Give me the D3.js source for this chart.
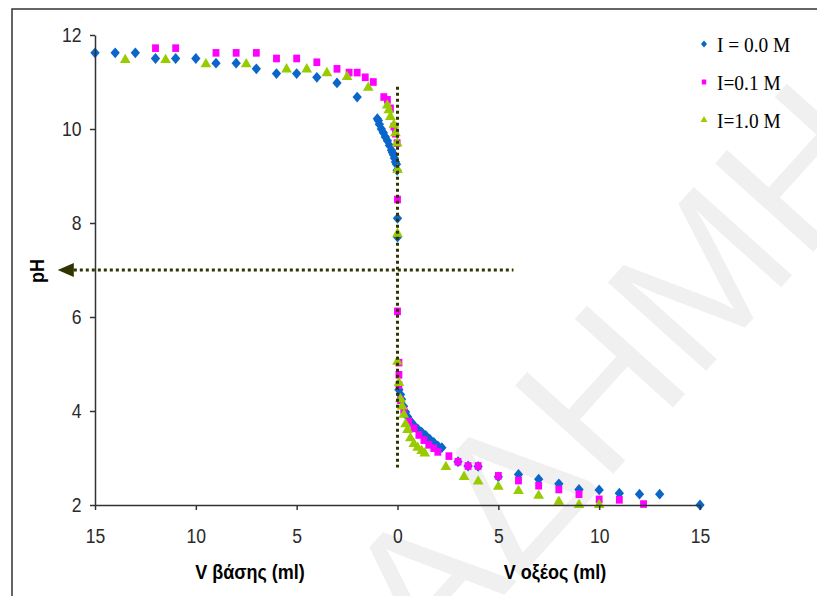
<!DOCTYPE html>
<html>
<head>
<meta charset="utf-8">
<script src="https://cdn.jsdelivr.net/npm/d3@7"></script>
<style>
  body { margin: 0; background: #fff; }
  svg { display: block; }
</style>
</head>
<body>
<svg id="chart"></svg>
<script>
// series labels
const seriesNames = ['I = 0.0 M', 'I=0.1 M', 'I=1.0 M'];

// I = 0.0 M, base side (V base) and acid side (V acid)
const base00V  = [15, 14, 13, 12, 11, 10, 9, 8, 7, 6, 5, 4, 3, 2, 1.0, 0.95, 0.9, 0.8, 0.7, 0.6, 0.5, 0.4, 0.3, 0.25, 0.2, 0.15, 0.1, 0.05, 0.02, 0, 0];
const base00pH = [11.62, 11.62, 11.62, 11.5, 11.5, 11.5, 11.4, 11.4, 11.28, 11.18, 11.18, 11.1, 10.98, 10.68, 10.22, 10.18, 10.1, 10.0, 9.92, 9.83, 9.75, 9.65, 9.55, 9.5, 9.45, 9.38, 9.3, 9.25, 9.12, 8.1, 7.7];
const acid00V  = [0.07, 0.15, 0.2, 0.3, 0.4, 0.5, 0.6, 0.7, 0.8, 1.0, 1.2, 1.4, 1.6, 1.8, 2.0, 2.2, 3.0, 3.5, 4.0, 5, 6, 7, 8, 9, 10, 11, 12, 13, 15];
const acid00pH = [4.45, 4.35, 4.25, 4.1, 3.98, 3.88, 3.8, 3.75, 3.7, 3.62, 3.55, 3.48, 3.4, 3.33, 3.26, 3.22, 2.92, 2.83, 2.82, 2.6, 2.65, 2.55, 2.45, 2.33, 2.32, 2.25, 2.23, 2.23, 2.0];

// I = 0.1 M
const base01V  = [12, 11, 9, 8, 7, 6, 5, 4, 3, 2.4, 2.0, 1.6, 1.2, 0.68, 0.5, 0.35, 0.18, 0.1, 0.02, 0, 0];
const base01pH = [11.72, 11.72, 11.62, 11.62, 11.62, 11.5, 11.5, 11.42, 11.28, 11.2, 11.2, 11.1, 11.0, 10.68, 10.62, 10.44, 10.05, 9.9, 9.7, 8.5, 6.12];
const acid01V  = [0.07, 0.07, 0.07, 0.15, 0.31, 0.56, 0.81, 1.06, 1.31, 1.55, 1.8, 2.0, 2.55, 3.0, 3.5, 4.0, 5.0, 6.0, 7.0, 8.0, 9.0, 10.0, 11.0, 12.2];
const acid01pH = [5.03, 4.77, 4.55, 4.23, 4.02, 3.77, 3.63, 3.49, 3.38, 3.28, 3.21, 3.13, 3.04, 2.92, 2.83, 2.83, 2.62, 2.52, 2.41, 2.33, 2.23, 2.12, 2.11, 2.02];

// I = 1.0 M
const base10V  = [13.5, 11.5, 9.5, 7.5, 5.5, 4.5, 3.5, 2.5, 1.45, 0.51, 0.43, 0.35, 0.18, 0.1, 0.02, 0, 0];
const base10pH = [11.47, 11.47, 11.38, 11.38, 11.27, 11.27, 11.19, 11.11, 10.88, 10.5, 10.4, 10.26, 10.09, 9.91, 9.7, 9.13, 7.77];
const acid10V  = [0, 0.07, 0.15, 0.23, 0.31, 0.4, 0.5, 0.64, 0.81, 1.0, 1.2, 1.35, 2.4, 3.3, 4, 5, 6, 7, 8, 9, 10];
const acid10pH = [5.05, 4.6, 4.25, 4.1, 3.92, 3.72, 3.6, 3.42, 3.3, 3.22, 3.15, 3.1, 2.81, 2.6, 2.5, 2.39, 2.3, 2.2, 2.07, 2.0, 2.0];

// axis ticks (negative = base side)
const xTicks = [-15, -10, -5, 0, 5, 10, 15];
const yTicks = [2, 4, 6, 8, 10, 12];

// reference lines (data units)
const eqV = 0, eqFrom = 2.8, eqTo = 10.9;
const refPH = 7, refFrom = -16.05, refTo = 5.75, refTip = -16.85;

class TitrationChart {

    constructor( config, data ) {
        this.config = {
            parent: config.parent,
            width: config.width || 817,
            height: config.height || 596
        }
        this.data = data;
        this.init();
    }

    init() {
        let self = this;

        self.svg = d3.select( self.config.parent )
            .attr('width', self.config.width)
            .attr('height', self.config.height)
            .style('font-family', '"Liberation Sans", Arial, sans-serif');

        self.x = d3.scaleLinear().domain([-15, 15]).range([95, 700]);
        self.y = d3.scaleLinear().domain([2, 12]).range([505, 35]);

        self.color = d3.scaleOrdinal()
            .domain(seriesNames)
            .range(['#0b66c9', '#ff00ff', '#99cc00']);

        const diamond = { draw(ctx, size) {
            const r = Math.sqrt(size) / 2;
            ctx.moveTo(0, -r * 1.1); ctx.lineTo(r * 0.95, 0);
            ctx.lineTo(0, r * 1.1); ctx.lineTo(-r * 0.95, 0); ctx.closePath();
        } };
        const square = { draw(ctx, size) {
            const s = Math.sqrt(size) / 2;
            ctx.rect(-s * 0.9, -s, 2 * s * 0.9, 2 * s);
        } };
        self.shapes = { [seriesNames[0]]: diamond, [seriesNames[1]]: square, [seriesNames[2]]: d3.symbolTriangle };
        self.sizes = { [seriesNames[0]]: 96, [seriesNames[1]]: 58, [seriesNames[2]]: 50 };

        // frame
        self.svg.append('path')
            .attr('d', `M12,${self.config.height + 5} L12,9 L${self.config.width + 5},9`)
            .attr('fill', 'none')
            .attr('stroke', '#333')
            .attr('stroke-width', 1.5);

        // watermark
        self.svg.append('text')
            .attr('transform', 'translate(612,372) rotate(-48)')
            .attr('text-anchor', 'middle')
            .attr('dy', '0.36em')
            .style('font-size', '192px')
            .attr('fill', '#f0f0f0')
            .text('ΑΔΗΜΗ');

        self.chart = self.svg.append('g');
    }

    update() {
        let self = this;
        self.render();
    }

    render() {
        let self = this;

        // axes
        const yAxis = self.svg.append('g')
            .attr('transform', `translate(${self.x(-15)},0)`)
            .call(d3.axisLeft(self.y).tickValues(yTicks).tickSize(5).tickSizeOuter(0).tickPadding(10));
        const xAxis = self.svg.append('g')
            .attr('transform', `translate(0,${self.y(2)})`)
            .call(d3.axisBottom(self.x).tickValues(xTicks).tickSize(5).tickSizeOuter(0).tickPadding(19)
                .tickFormat(d => Math.abs(d)));

        [xAxis, yAxis].forEach(a => {
            a.select('.domain').attr('stroke', '#333').attr('stroke-width', 1.5);
            a.selectAll('.tick line').attr('stroke', '#333').attr('stroke-width', 1.5);
            a.selectAll('text')
                .style('font-family', '"Liberation Sans", Arial, sans-serif')
                .style('font-size', '19.5px')
                .attr('fill', '#2a2a2a')
                .attr('transform', 'scale(0.9,1)');
        });

        // axis titles
        const titles = [
            { text: 'V βάσης (ml)', x: 250, y: 579, r: 0 },
            { text: 'V οξέος (ml)', x: 555, y: 579, r: 0 },
            { text: 'pH', x: 44, y: 271, r: -90 }
        ];
        self.svg.selectAll('.axis-title')
            .data(titles)
            .enter()
            .append('text')
            .attr('class', 'axis-title')
            .attr('transform', d => `translate(${d.x},${d.y}) rotate(${d.r}) scale(0.9,1)`)
            .attr('text-anchor', 'middle')
            .style('font-size', '20px')
            .style('font-weight', 'bold')
            .attr('fill', '#000')
            .text(d => d.text);

        // points
        self.chart.selectAll('.series')
            .data(self.data)
            .enter()
            .append('g')
            .attr('class', 'series')
            .selectAll('path')
            .data(s => s.points.map(p => ({ name: s.name, v: p[0], pH: p[1] })))
            .enter()
            .append('path')
            .attr('transform', d => `translate(${self.x(d.v)},${self.y(d.pH)})`)
            .attr('d', d => d3.symbol(self.shapes[d.name], self.sizes[d.name])())
            .attr('fill', d => self.color(d.name));

        // dotted reference lines
        const dotted = self.svg.append('g')
            .attr('stroke', '#333300')
            .attr('stroke-width', 3)
            .attr('stroke-dasharray', '3,3');
        dotted.append('line')
            .attr('x1', self.x(eqV)).attr('x2', self.x(eqV))
            .attr('y1', self.y(eqTo)).attr('y2', self.y(eqFrom));
        dotted.append('line')
            .attr('x1', self.x(refFrom)).attr('x2', self.x(refTo))
            .attr('y1', self.y(refPH)).attr('y2', self.y(refPH));

        self.svg.append('path')
            .attr('d', `M${self.x(refTip)},${self.y(refPH)} L${self.x(refFrom)},${self.y(refPH) - 7} L${self.x(refFrom)},${self.y(refPH) + 7} Z`)
            .attr('fill', '#333300');

        // legend
        const legend = self.svg.selectAll('.legend')
            .data(seriesNames)
            .enter()
            .append('g')
            .attr('class', 'legend')
            .attr('transform', (d, i) => `translate(704,${44 + i * 38})`);

        legend.append('path')
            .attr('d', d => d3.symbol(self.shapes[d], self.sizes[d] * 0.42)())
            .attr('fill', d => self.color(d));

        legend.append('text')
            .attr('transform', 'translate(13,7.5) scale(0.88,1)')
            .style('font-family', '"Liberation Serif", "Times New Roman", serif')
            .style('font-size', '22px')
            .attr('fill', '#000')
            .text(d => d);
    }
}

const zip = (a, b) => a.map((v, i) => [v, b[i]]);
const data = [
    { name: seriesNames[0], points: zip(base00V.map(v => -v), base00pH).concat(zip(acid00V, acid00pH)) },
    { name: seriesNames[1], points: zip(base01V.map(v => -v), base01pH).concat(zip(acid01V, acid01pH)) },
    { name: seriesNames[2], points: zip(base10V.map(v => -v), base10pH).concat(zip(acid10V, acid10pH)) }
];

const chart = new TitrationChart({ parent: '#chart', width: 817, height: 596 }, data);
chart.update();
</script>
</body>
</html>
